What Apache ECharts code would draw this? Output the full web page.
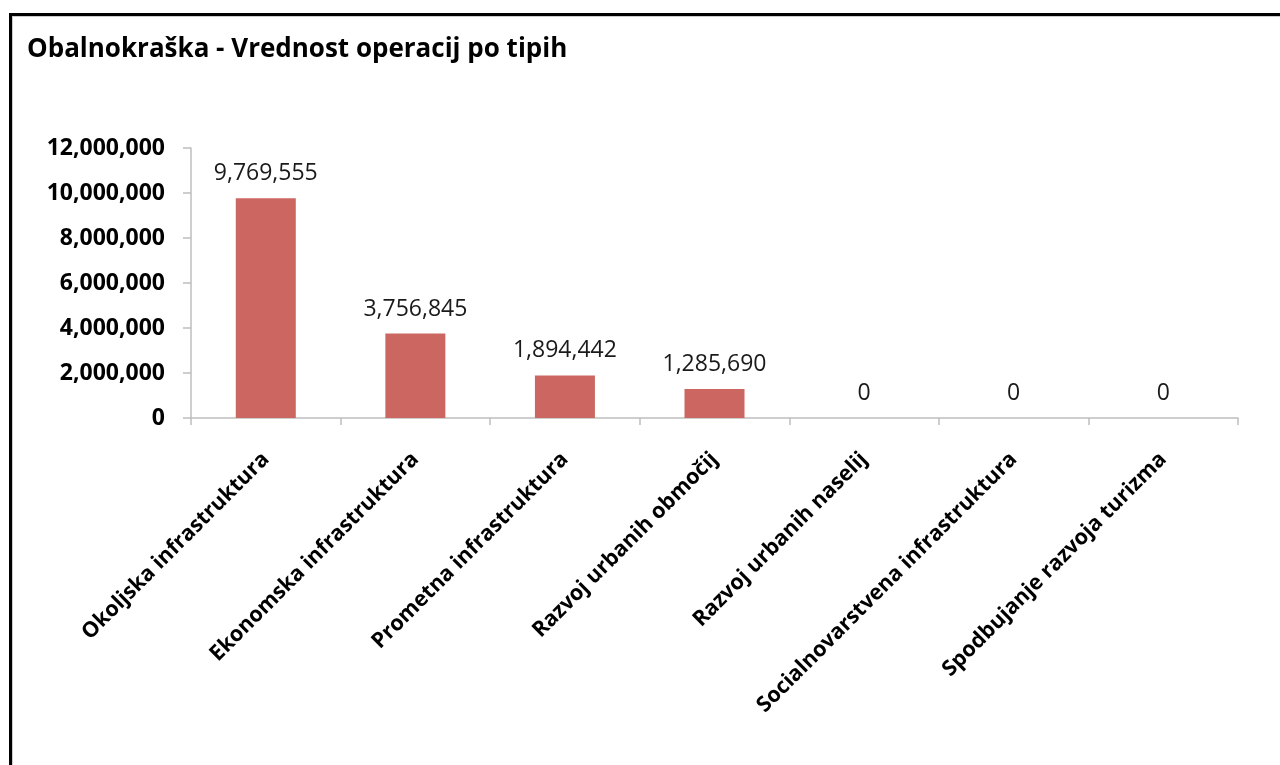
<!DOCTYPE html>
<html>
<head>
<meta charset="utf-8">
<script src="https://cdn.jsdelivr.net/npm/echarts@6/dist/echarts.min.js"></script>
<style>
  html, body { margin: 0; padding: 0; background: #fff; }
  #frame { position: absolute; left: 9px; top: 13px; width: 1300px; height: 800px;
           border-left: 3px solid #000; border-top: 3px solid #000; box-shadow: 1px 1px 0 #ccc inset; }
  #chart { position: absolute; left: 0; top: 0; width: 1280px; height: 765px; }
</style>
</head>
<body>
<div id="frame"></div>
<div id="chart"></div>
<script>
const titleText = 'Obalnokraška - Vrednost operacij po tipih';
const categories = [
  'Okoljska infrastruktura',
  'Ekonomska infrastruktura',
  'Prometna infrastruktura',
  'Razvoj urbanih območij',
  'Razvoj urbanih naselij',
  'Socialnovarstvena infrastruktura',
  'Spodbujanje razvoja turizma'
];
const values = [9769555, 3756845, 1894442, 1285690, 0, 0, 0];
const yTicks = { min: 0, max: 12000000, interval: 2000000 };

const fmt = v => Math.round(v).toString().replace(/\B(?=(\d{3})+(?!\d))/g, ',');
const FONT = '"Open Sans", sans-serif';

const chart = echarts.init(document.getElementById('chart'), null, { renderer: 'canvas' });
chart.setOption({
  animation: false,
  backgroundColor: 'transparent',
  title: {
    text: titleText,
    left: 22, top: 32,
    textStyle: { fontFamily: FONT, fontSize: 26, fontWeight: 'bold', color: '#000' }
  },
  grid: { left: 191, right: 42, top: 148, bottom: 347, containLabel: false },
  xAxis: {
    type: 'category',
    data: categories,
    axisLine: { show: true, lineStyle: { color: '#BEBEBE', width: 1.5 } },
    axisTick: { show: true, length: 7, interval: 0, lineStyle: { color: '#BEBEBE', width: 1.5 } },
    axisLabel: {
      interval: 0, rotate: 45, margin: 38,
      fontFamily: FONT, fontSize: 21.5, fontWeight: 'bold', color: '#000'
    }
  },
  yAxis: {
    type: 'value',
    min: yTicks.min, max: yTicks.max, interval: yTicks.interval,
    splitLine: { show: false },
    axisLine: { show: true, lineStyle: { color: '#BEBEBE', width: 1.5 } },
    axisTick: { show: true, length: 8, lineStyle: { color: '#BEBEBE', width: 1.5 } },
    axisLabel: {
      margin: 26, formatter: v => fmt(v),
      fontFamily: FONT, fontSize: 23, fontWeight: 'bold', color: '#000'
    }
  },
  series: [{
    type: 'bar',
    data: values,
    barWidth: 60,
    itemStyle: { color: '#CC6660' },
    label: {
      show: true, position: 'top', distance: 13,
      formatter: p => fmt(p.value),
      fontFamily: FONT, fontSize: 23, color: '#1a1a1a'
    }
  }]
});
</script>
</body>
</html>
